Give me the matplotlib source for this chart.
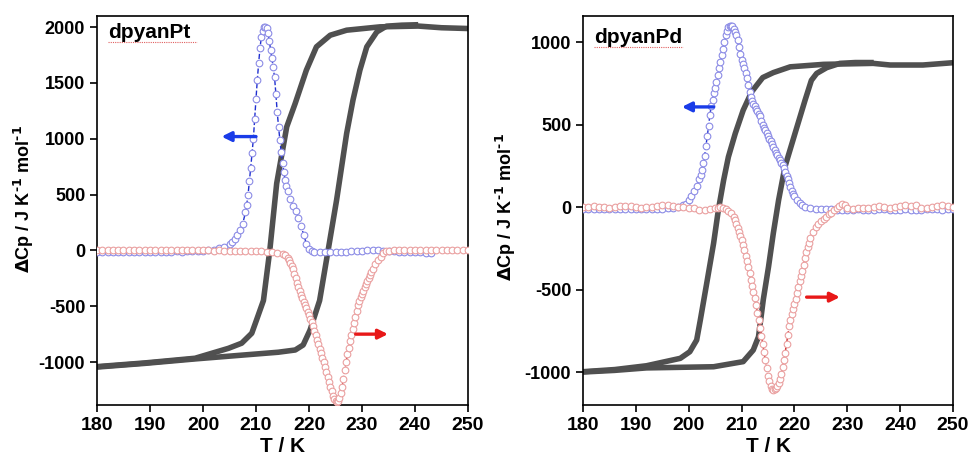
import matplotlib
matplotlib.use("Agg")
import matplotlib.pyplot as plt

plt.rcParams['font.family'] = ['Liberation Sans', 'DejaVu Sans']
plt.rcParams['font.weight'] = 'bold'
plt.rcParams['axes.unicode_minus'] = False
plt.rcParams['mathtext.default'] = 'bf'

# ---- dpyanPt : cooling (blue) ----
pt_cool_t = [180, 181, 182, 183, 184, 185, 186, 187, 188, 189, 190, 191, 192, 193, 194, 195, 196, 197, 198, 199, 200,
             201, 202, 203, 204, 205, 205.5, 206, 206.5, 207, 207.5, 208, 208.25, 208.5, 208.75, 209, 209.25, 209.5,
             209.75, 210, 210.25, 210.5, 210.75, 211, 211.25, 211.5, 211.75, 212, 212.25, 212.5, 212.75, 213, 213.25,
             213.5, 213.75, 214, 214.25, 214.5, 214.75, 215, 215.25, 215.5, 215.75, 216, 216.5, 217, 217.5, 218, 218.5,
             219, 219.5, 220, 220.5, 221, 222, 223, 224, 225, 226, 227, 228, 229, 230, 231, 232, 233, 234, 235, 236,
             237, 238, 239, 240, 241, 242, 243]
pt_cool_cp = [-12, -14, -13, -12, -15, -13, -12, -14, -12, -11, -13, -12, -10, -12, -11, -9, -10, -8, -6, -4, -2,
              2, 8, 18, 35, 60, 78, 100, 140, 185, 240, 340, 410, 500, 620, 740, 870, 1000,
              1180, 1360, 1530, 1680, 1810, 1910, 1970, 2000, 2005, 1990, 1950, 1880, 1800, 1720, 1640,
              1550, 1400, 1240, 1110, 990, 880, 780, 700, 630, 575, 530, 460, 400, 350, 290, 220,
              140, 60, 15, -5, -15, -18, -18, -15, -14, -12, -10, -8, -5, -3, 0, 2, 0, -2, -5, -8,
              -10, -12, -14, -15, -18, -20, -22]

# ---- dpyanPt : heating (red) ----
pt_heat_t = [180, 181, 182, 183, 184, 185, 186, 187, 188, 189, 190, 191, 192, 193, 194, 195, 196, 197, 198, 199, 200,
             201, 202, 203, 204, 205, 206, 207, 208, 209, 210, 211, 212, 213, 214, 215, 215.5,
             216, 216.25, 216.5, 216.75, 217, 217.25, 217.5, 217.75, 218, 218.25, 218.5, 218.75, 219, 219.25, 219.5,
             219.75, 220, 220.25, 220.5, 220.75, 221, 221.25, 221.5, 221.75, 222, 222.25, 222.5, 222.75, 223, 223.25,
             223.5, 223.75, 224, 224.25, 224.5, 224.75, 225, 225.25, 225.5, 225.75, 226, 226.25, 226.5, 226.75, 227,
             227.25, 227.5, 227.75, 228, 228.25, 228.5, 228.75, 229, 229.25, 229.5, 229.75, 230, 230.25, 230.5, 230.75,
             231, 231.25, 231.5, 231.75, 232, 232.5, 233, 233.5, 234, 234.5, 235, 236, 237, 238, 239, 240, 241, 242,
             243, 244, 245, 246, 247, 248, 249, 250]
pt_heat_cp = [5, 6, 4, 5, 3, 4, 6, 5, 3, 2, 4, 5, 3, 2, 4, 3, 2, 1, 3, 2, 0,
              1, -1, 0, -2, -1, -3, -2, -4, -5, -6, -8, -10, -14, -20, -30, -45,
              -70, -88, -110, -138, -170, -208, -250, -290, -330, -366, -400, -430, -460, -490, -520,
              -550, -580, -610, -642, -680, -720, -760, -800, -840, -880, -920, -960, -1000, -1040, -1085,
              -1130, -1175, -1220, -1262, -1300, -1330, -1350, -1360, -1352, -1322, -1280, -1220, -1150, -1075, -1000,
              -932, -870, -812, -760, -705, -650, -595, -540, -492, -450, -418, -390, -360, -330, -300,
              -270, -245, -220, -192, -165, -120, -90, -55, -25, -8, -2, 0, 2, 3, 4, 5, 5, 6,
              5, 6, 7, 6, 5, 6, 7, 8]

# ---- dpyanPt : hysteresis loops (grey) ----
pt_loop_cool_t = [180, 189, 198.5, 204.8, 207.3, 209.2, 210.1, 211.4, 212.6, 213.9, 215.8, 217.4, 219.5, 221.4,
                  224, 227.1, 233.4, 240.6, 245, 250]
pt_loop_cool_y = [-1041, -1008, -966, -877, -831, -742, -623, -449, 0, 600, 1108, 1318, 1615, 1824,
                  1928, 1973, 2003, 2010, 1995, 1988]
pt_loop_heat_t = [180, 189, 198.5, 207.9, 214.2, 217.4, 218.9, 220.2, 222, 223.6, 225.2, 227.1, 228.3, 229.6,
                  230.9, 232.8, 234.6, 237.5, 240.6]
pt_loop_heat_y = [-1045, -1012, -972, -936, -912, -892, -847, -713, -449, 0, 450, 1048, 1348, 1615,
                  1824, 1958, 2009, 2018, 2022]

# ---- dpyanPd : cooling (blue) ----
pd_cool_t = [180, 181, 182, 183, 184, 185, 186, 187, 188, 189, 190, 191, 192, 193, 194, 195, 196, 197, 198,
             199, 199.5, 200, 200.5, 201, 201.5, 202, 202.25, 202.5, 202.75, 203, 203.25, 203.5, 203.75, 204, 204.25,
             204.5, 204.75, 205, 205.25, 205.5, 205.75, 206, 206.25, 206.5, 206.75, 207, 207.25, 207.5, 207.75, 208,
             208.25, 208.5, 208.75, 209, 209.25, 209.5, 209.75, 210, 210.25, 210.5, 210.75, 211, 211.25, 211.5, 211.75,
             212, 212.25, 212.5, 212.75, 213, 213.25, 213.5, 213.75, 214, 214.25, 214.5, 214.75, 215, 215.25, 215.5,
             215.75, 216, 216.25, 216.5, 216.75, 217, 217.25, 217.5, 217.75, 218, 218.25, 218.5, 218.75, 219, 219.25,
             219.5, 219.75, 220, 220.5, 221, 221.5, 222, 223, 224, 225, 226, 227, 228, 229, 230, 231, 232, 233, 234,
             235, 236, 237, 238, 239, 240, 241, 242, 243, 244, 245, 246, 247, 248, 249, 250]
pd_cool_cp = [-12, -10, -14, -12, -10, -13, -11, -12, -14, -12, -10, -11, -13, -12, -10, -9, -8, -5, 0,
              10, 20, 42, 68, 98, 130, 170, 195, 225, 265, 310, 370, 430, 490, 560, 610,
              650, 690, 720, 760, 800, 840, 880, 920, 960, 1000, 1040, 1070, 1090, 1100, 1100,
              1095, 1080, 1060, 1040, 1010, 970, 930, 890, 865, 840, 810, 780, 740, 700, 670,
              645, 625, 610, 595, 580, 565, 550, 522, 495, 480, 465, 448, 430, 415, 400,
              382, 365, 348, 330, 315, 300, 285, 270, 252, 235, 212, 190, 168, 145, 122,
              100, 82, 65, 40, 22, 10, 0, -8, -10, -12, -13, -14, -15, -15, -16, -15, -14, -15, -16,
              -15, -14, -13, -15, -16, -15, -14, -15, -16, -15, -14, -13, -14, -15, -14, -12]

# ---- dpyanPd : heating (red) ----
pd_heat_t = [180, 181, 182, 183, 184, 185, 186, 187, 188, 189, 190, 191, 192, 193, 194, 195, 196, 197, 198, 199,
             200, 201, 202, 203, 204, 205, 205.5, 206, 206.5, 207, 207.5, 208, 208.5, 208.75, 209, 209.25, 209.5,
             209.75, 210, 210.25, 210.5, 210.75, 211, 211.25, 211.5, 211.75, 212, 212.25, 212.5, 212.75, 213, 213.25,
             213.5, 213.75, 214, 214.25, 214.5, 214.75, 215, 215.25, 215.5, 215.75, 216, 216.25, 216.5, 216.75, 217,
             217.25, 217.5, 217.75, 218, 218.25, 218.5, 218.75, 219, 219.25, 219.5, 219.75, 220, 220.25, 220.5, 220.75,
             221, 221.25, 221.5, 221.75, 222, 222.25, 222.5, 222.75, 223, 223.5, 224, 224.5, 225, 225.5, 226, 226.5,
             227, 227.5, 228, 228.5, 229, 229.5, 230, 231, 232, 233, 234, 235, 236, 237, 238, 239, 240, 241, 242,
             243, 244, 245, 246, 247, 248, 249, 250]
pd_heat_cp = [0, 3, 5, 2, -2, -3, 0, 4, 8, 6, 0, -5, -2, 3, 8, 15, 10, 5, 2, 0,
              -3, -8, -15, -20, -10, -5, -3, -2, -5, -12, -22, -38, -60, -78, -100, -125, -150,
              -175, -200, -230, -262, -295, -330, -365, -400, -440, -480, -515, -552, -595, -640, -685,
              -732, -780, -830, -880, -930, -978, -1022, -1055, -1082, -1100, -1107, -1104, -1095, -1082, -1065,
              -1040, -1010, -972, -930, -882, -830, -775, -722, -685, -650, -620, -590, -555, -520, -485,
              -450, -420, -390, -350, -310, -275, -240, -215, -190, -150, -120, -100, -85, -70, -58, -45,
              -35, -20, -8, 5, 18, 10, -8, -10, -5, -3, -8, -2, 5, 3, -5, -2, 8, 15, 5,
              12, -3, -6, -2, 5, 10, 8, -2]

# ---- dpyanPd : hysteresis loops (grey) ----
pd_loop_cool_t = [180, 186, 192, 198.4, 200.2, 201.5, 202.2, 203.4, 204.7, 205.6, 206.6, 207.5, 208.8, 210.3,
                  211.9, 212.9, 214, 216, 219.2, 225.5, 234.9, 238.1, 244.3, 250]
pd_loop_cool_y = [-998, -985, -962, -917, -877, -806, -683, -462, -220, -18, 163, 304, 446, 587,
                  698, 740, 785, 815, 850, 865, 871, 861, 861, 875]
pd_loop_heat_t = [180, 186, 192, 204.7, 210.3, 212.2, 213.2, 214.1, 215.1, 216, 217, 218.2, 220.1, 222,
                  223.2, 224.2, 226.1, 228.6, 231.5, 235]
pd_loop_heat_y = [-1000, -990, -975, -968, -937, -867, -786, -562, -361, -159, 42, 244, 446, 647,
                  768, 810, 845, 871, 876, 876]

blue_line, blue_mk = '#1f2fd0', '#8c8ce6'
red_line, red_mk = '#cc1f1f', '#eaa0a0'
grey = '#505050'


def draw_panel(ax, loops, cool, heat, ylim, yticks, name, name_y, line_y, arrows, ylab_pos):
    for t, y in loops:
        ax.plot(t, y, color=grey, lw=4.0, solid_capstyle='butt', zorder=2)
    ax.plot(cool[0], cool[1], ls='--', lw=1.0, color=blue_line, marker='o', ms=4.8,
            mfc='white', mec=blue_mk, mew=0.8, zorder=3)
    ax.plot(heat[0], heat[1], ls='--', lw=1.0, color=red_line, marker='o', ms=4.8,
            mfc='white', mec=red_mk, mew=0.8, zorder=4)

    for (x0, x1, y), col in zip(arrows, ['#1a3ce8', '#e81818']):
        ax.annotate('', xy=(x1, y), xytext=(x0, y),
                    arrowprops=dict(arrowstyle='-|>', color=col, lw=2.4, mutation_scale=14,
                                    shrinkA=0, shrinkB=0), zorder=5)

    ax.text(0.03, name_y, name, transform=ax.transAxes, fontsize=15, fontweight='bold',
            va='baseline', ha='left')
    ax.plot([0.03, 0.27], [line_y, line_y], transform=ax.transAxes, color='#e06060',
            lw=0.8, ls=(0, (1, 1)), zorder=5)

    ax.set_xlim(180, 250)
    ax.set_ylim(*ylim)
    ax.set_xticks(range(180, 251, 10))
    ax.set_yticks(yticks)
    ax.tick_params(direction='out', length=5, width=1.2, top=False, right=False)
    ax.tick_params(axis='x', labelsize=14)
    ax.tick_params(axis='y', labelsize=13)
    for lab in ax.get_xticklabels() + ax.get_yticklabels():
        lab.set_fontweight('bold')
    for s in ax.spines.values():
        s.set_linewidth(1.2)
    ax.set_xlabel('T / K', fontsize=15, fontweight='bold', labelpad=2)
    ax.set_ylabel(r'$\Delta$Cp / J K$^{\text{-}1}$ mol$^{\text{-}1}$', fontsize=13, fontweight='bold')
    ax.yaxis.set_label_coords(*ylab_pos)


fig = plt.figure(figsize=(9.69, 4.59), dpi=100)
ax1 = fig.add_axes([0.1001, 0.1176, 0.3829, 0.8475])
ax2 = fig.add_axes([0.6017, 0.1176, 0.3818, 0.8475])

draw_panel(ax1, [(pt_loop_cool_t, pt_loop_cool_y), (pt_loop_heat_t, pt_loop_heat_y)],
           (pt_cool_t, pt_cool_cp), (pt_heat_t, pt_heat_cp),
           (-1385, 2100), [-1000, -500, 0, 500, 1000, 1500, 2000], 'dpyanPt', 0.943, 0.933,
           [(210.0, 203.5, 1020), (228.8, 234.9, -750)], (-0.165, 0.53))
draw_panel(ax2, [(pd_loop_cool_t, pd_loop_cool_y), (pd_loop_heat_t, pd_loop_heat_y)],
           (pd_cool_t, pd_cool_cp), (pd_heat_t, pd_heat_cp),
           (-1200, 1158), [-1000, -500, 0, 500, 1000], 'dpyanPd', 0.931, 0.920,
           [(204.7, 198.7, 607), (222.3, 228.6, -546)], (-0.175, 0.51))

fig.savefig('out.png', dpi=100)
